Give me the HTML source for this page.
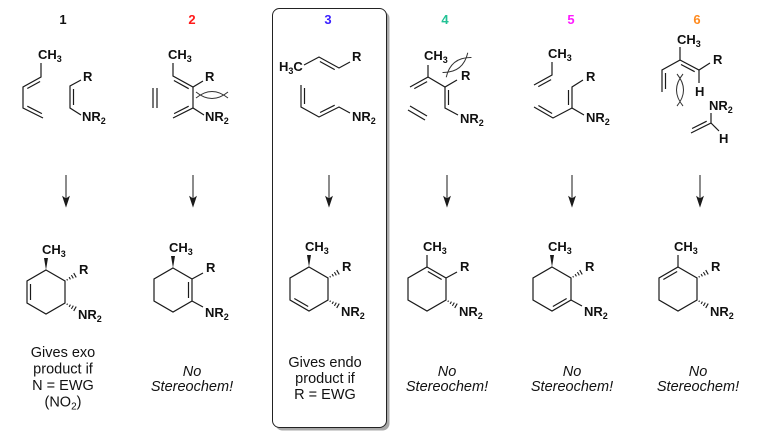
<!DOCTYPE html>
<html><head><meta charset="utf-8"><style>
html,body{margin:0;padding:0;background:#fff;}
svg{display:block;}
text{font-family:"Liberation Sans",Arial,sans-serif;}
.l{font-size:13px;font-weight:bold;fill:#111;}
.s{font-size:9px;}
.b{font-size:14.5px;fill:#111;}
.i{font-size:14.5px;font-style:italic;fill:#111;}
</style></head><body>
<svg width="764" height="444" viewBox="0 0 764 444" xmlns="http://www.w3.org/2000/svg">
<defs>
<g id="hash" stroke="#1a1a1a" stroke-width="1.1">
<line x1="2.5" y1="-0.7" x2="2.5" y2="0.7"/>
<line x1="5.5" y1="-1.3" x2="5.5" y2="1.3"/>
<line x1="8.5" y1="-1.9" x2="8.5" y2="1.9"/>
<line x1="11.5" y1="-2.5" x2="11.5" y2="2.5"/>
</g>
<g id="lens" fill="none" stroke="#333" stroke-width="1">
<path d="M-16,3 Q0,-10 16,3"/>
<path d="M-16,-3 Q0,10 16,-3"/>
</g>
<g id="hex" fill="none" stroke="#1a1a1a" stroke-width="1.2">
<polygon points="0,0 19,11 19,33 0,44 -19,33 -19,11"/>
</g>
</defs>

<!-- box -->
<rect x="275.5" y="11.5" width="114" height="419" rx="7" fill="#a8a8a8"/>
<rect x="272.5" y="8.5" width="114" height="419" rx="7" fill="#fff" stroke="#222" stroke-width="1"/>

<!-- headers -->
<g font-size="13" font-weight="bold" text-anchor="middle">
<text x="63" y="24" fill="#111">1</text>
<text x="192" y="24" fill="#ff1a1a">2</text>
<text x="328" y="24" fill="#3a1fff">3</text>
<text x="445" y="24" fill="#22c295">4</text>
<text x="571" y="24" fill="#ff1aff">5</text>
<text x="697" y="24" fill="#ff8a1e">6</text>
</g>

<!-- reactants -->
<g fill="none" stroke="#1a1a1a" stroke-width="1.2">
<!-- mol 1 -->
<polyline points="41,63 41,77 23,87 23,108 43,118"/>
<line x1="40.1" y1="81.5" x2="27.3" y2="88.5"/>
<line x1="27.3" y1="106.2" x2="41.9" y2="113.6"/>
<polyline points="81,80 70,86 70,108 81,115"/>
<line x1="73.5" y1="89" x2="73.5" y2="105"/>
<!-- mol 2 -->
<polyline points="173,63 173,76 193,87 203,81"/>
<line x1="173.9" y1="80.5" x2="188.7" y2="88.7"/>
<line x1="193" y1="87" x2="193" y2="108"/>
<polyline points="173,118 193,108 204,115"/>
<line x1="188.7" y1="106.2" x2="174.1" y2="113.6"/>
<line x1="153" y1="88" x2="153" y2="108"/>
<line x1="157" y1="88" x2="157" y2="108"/>
<!-- mol 3 -->
<polyline points="304,65 319,57 339,68 350,62"/>
<line x1="319.9" y1="61.5" x2="334.7" y2="69.6"/>
<polyline points="301,85 301,107 319,117 339,107 350,113"/>
<line x1="304.5" y1="88" x2="304.5" y2="104"/>
<line x1="320.1" y1="112.5" x2="334.7" y2="105.2"/>
<!-- mol 4 -->
<polyline points="428,65 428,77 410,87"/>
<line x1="427.1" y1="81.6" x2="414.3" y2="88.6"/>
<polyline points="428,77 445,87 457,80"/>
<polyline points="445,87 445,108 458,115"/>
<line x1="448.5" y1="90" x2="448.5" y2="105"/>
<line x1="408" y1="110" x2="425" y2="120"/>
<line x1="410" y1="106" x2="427" y2="116"/>
<!-- mol 5 -->
<polyline points="552,62 552,75 534,85"/>
<line x1="551.1" y1="79.6" x2="538.3" y2="86.6"/>
<polyline points="583,80 572,87 572,108 584,115"/>
<line x1="568.5" y1="90" x2="568.5" y2="105"/>
<polyline points="572,108 553,118 534,107"/>
<line x1="552.1" y1="113.5" x2="538.4" y2="105.5"/>
<!-- mol 6 -->
<polyline points="680,47 680,60 662,70 662,92"/>
<line x1="665.5" y1="73" x2="665.5" y2="89"/>
<polyline points="680,60 699,70 710,63"/>
<line x1="681" y1="64.5" x2="694.7" y2="71.7"/>
<line x1="699" y1="70" x2="699" y2="83"/>
<polyline points="711,113 711,123 691,133"/>
<line x1="706.7" y1="121.2" x2="692.1" y2="128.5"/>
<line x1="711" y1="123" x2="719" y2="131"/>
</g>

<!-- clash symbols -->
<use href="#lens" transform="translate(212,95)"/>
<use href="#lens" transform="translate(457,65) rotate(-38)"/>
<use href="#lens" transform="translate(680,90) rotate(90)"/>

<!-- reactant labels -->
<g class="l">
<text x="38" y="59">CH<tspan class="s" dy="3">3</tspan></text>
<text x="83" y="81">R</text>
<text x="82" y="121">NR<tspan class="s" dy="3">2</tspan></text>

<text x="168" y="59">CH<tspan class="s" dy="3">3</tspan></text>
<text x="205" y="81">R</text>
<text x="205" y="121">NR<tspan class="s" dy="3">2</tspan></text>

<text x="279" y="71">H<tspan class="s" dy="3">3</tspan><tspan dy="-3">C</tspan></text>
<text x="352" y="61">R</text>
<text x="352" y="121">NR<tspan class="s" dy="3">2</tspan></text>

<text x="424" y="60">CH<tspan class="s" dy="3">3</tspan></text>
<text x="461" y="80">R</text>
<text x="460" y="123">NR<tspan class="s" dy="3">2</tspan></text>

<text x="548" y="58">CH<tspan class="s" dy="3">3</tspan></text>
<text x="586" y="81">R</text>
<text x="586" y="122">NR<tspan class="s" dy="3">2</tspan></text>

<text x="677" y="44">CH<tspan class="s" dy="3">3</tspan></text>
<text x="713" y="64">R</text>
<text x="695" y="96">H</text>
<text x="709" y="110">NR<tspan class="s" dy="3">2</tspan></text>
<text x="719" y="143">H</text>
</g>

<!-- arrows -->
<g stroke="#1a1a1a" stroke-width="1" fill="#1a1a1a">
<line x1="66" y1="175" x2="66" y2="199"/><polygon points="63,197 66,206 69,197 66,199"/>
<line x1="193" y1="175" x2="193" y2="199"/><polygon points="190,197 193,206 196,197 193,199"/>
<line x1="329" y1="175" x2="329" y2="199"/><polygon points="326,197 329,206 332,197 329,199"/>
<line x1="447" y1="175" x2="447" y2="199"/><polygon points="444,197 447,206 450,197 447,199"/>
<line x1="572" y1="175" x2="572" y2="199"/><polygon points="569,197 572,206 575,197 572,199"/>
<line x1="700" y1="175" x2="700" y2="199"/><polygon points="697,197 700,206 703,197 700,199"/>
</g>

<!-- products -->
<!-- P1 -->
<g transform="translate(46,270)">
<use href="#hex"/>
<polygon points="0,0 -2,-12 2,-12" fill="#1a1a1a"/>
<line x1="-15.5" y1="14" x2="-15.5" y2="30" stroke="#1a1a1a" stroke-width="1.2"/>
<use href="#hash" transform="translate(19,11) rotate(-30)"/>
<use href="#hash" transform="translate(19,33) rotate(30)"/>
<text class="l" x="-4" y="-16">CH<tspan class="s" dy="3">3</tspan></text>
<text class="l" x="33" y="4">R</text>
<text class="l" x="32" y="49">NR<tspan class="s" dy="3">2</tspan></text>
</g>
<!-- P2 -->
<g transform="translate(173,268)">
<use href="#hex"/>
<polygon points="0,0 -2,-12 2,-12" fill="#1a1a1a"/>
<g stroke="#1a1a1a" stroke-width="1.2">
<line x1="15.5" y1="14" x2="15.5" y2="30"/>
<line x1="19" y1="11" x2="30" y2="5"/>
<line x1="19" y1="33" x2="30" y2="39"/>
</g>
<text class="l" x="-4" y="-16">CH<tspan class="s" dy="3">3</tspan></text>
<text class="l" x="33" y="4">R</text>
<text class="l" x="32" y="49">NR<tspan class="s" dy="3">2</tspan></text>
</g>
<!-- P3 -->
<g transform="translate(309,267)">
<use href="#hex"/>
<polygon points="0,0 -2,-12 2,-12" fill="#1a1a1a"/>
<line x1="-14.7" y1="31.5" x2="-0.8" y2="39.5" stroke="#1a1a1a" stroke-width="1.2"/>
<use href="#hash" transform="translate(19,11) rotate(-30)"/>
<use href="#hash" transform="translate(19,33) rotate(30)"/>
<text class="l" x="-4" y="-16">CH<tspan class="s" dy="3">3</tspan></text>
<text class="l" x="33" y="4">R</text>
<text class="l" x="32" y="49">NR<tspan class="s" dy="3">2</tspan></text>
</g>
<!-- P4 -->
<g transform="translate(427,267)">
<use href="#hex"/>
<g stroke="#1a1a1a" stroke-width="1.2">
<line x1="0" y1="0" x2="0" y2="-12"/>
<line x1="0.85" y1="4.5" x2="14.65" y2="12.5"/>
<line x1="19" y1="11" x2="30" y2="5"/>
</g>
<use href="#hash" transform="translate(19,33) rotate(30)"/>
<text class="l" x="-4" y="-16">CH<tspan class="s" dy="3">3</tspan></text>
<text class="l" x="33" y="4">R</text>
<text class="l" x="32" y="49">NR<tspan class="s" dy="3">2</tspan></text>
</g>
<!-- P5 -->
<g transform="translate(552,267)">
<use href="#hex"/>
<polygon points="0,0 -2,-12 2,-12" fill="#1a1a1a"/>
<g stroke="#1a1a1a" stroke-width="1.2">
<line x1="14.65" y1="31.5" x2="0.85" y2="39.5"/>
<line x1="19" y1="33" x2="30" y2="39"/>
</g>
<use href="#hash" transform="translate(19,11) rotate(-30)"/>
<text class="l" x="-4" y="-16">CH<tspan class="s" dy="3">3</tspan></text>
<text class="l" x="33" y="4">R</text>
<text class="l" x="32" y="49">NR<tspan class="s" dy="3">2</tspan></text>
</g>
<!-- P6 -->
<g transform="translate(678,267)">
<use href="#hex"/>
<g stroke="#1a1a1a" stroke-width="1.2">
<line x1="0" y1="0" x2="0" y2="-12"/>
<line x1="-0.85" y1="4.5" x2="-14.65" y2="12.5"/>
</g>
<use href="#hash" transform="translate(19,11) rotate(-30)"/>
<use href="#hash" transform="translate(19,33) rotate(30)"/>
<text class="l" x="-4" y="-16">CH<tspan class="s" dy="3">3</tspan></text>
<text class="l" x="33" y="4">R</text>
<text class="l" x="32" y="49">NR<tspan class="s" dy="3">2</tspan></text>
</g>

<!-- bottom text -->
<g text-anchor="middle">
<text class="b" x="63" y="357">Gives exo</text>
<text class="b" x="63" y="373.5">product if</text>
<text class="b" x="63" y="390">N = EWG</text>
<text class="b" x="63" y="406.5">(NO<tspan font-size="10" dy="3">2</tspan><tspan dy="-3">)</tspan></text>

<text class="i" x="192" y="376">No</text>
<text class="i" x="192" y="391">Stereochem!</text>

<text class="b" x="325" y="367">Gives endo</text>
<text class="b" x="325" y="383">product if</text>
<text class="b" x="325" y="399">R = EWG</text>

<text class="i" x="447" y="376">No</text>
<text class="i" x="447" y="391">Stereochem!</text>
<text class="i" x="572" y="376">No</text>
<text class="i" x="572" y="391">Stereochem!</text>
<text class="i" x="698" y="376">No</text>
<text class="i" x="698" y="391">Stereochem!</text>
</g>
</svg>
</body></html>
